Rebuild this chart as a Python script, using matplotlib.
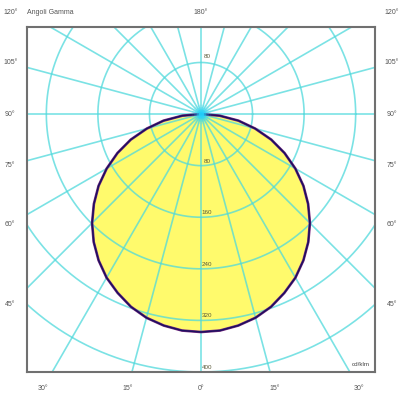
import numpy as np
import matplotlib
matplotlib.use("Agg")
import matplotlib.pyplot as plt

# Intensity distribution (cd/klm), gamma 0..90 deg
gamma_deg = [0, 5, 10, 15, 20, 25, 30, 35, 40, 45, 50, 55, 60, 65, 70, 75, 80, 85, 90]
intensity = [338, 337, 333, 327, 318, 306, 293, 277, 259, 239, 217, 194, 169, 143, 116, 87, 59, 29, 0]

ring_values = [80, 160, 240, 320, 400]
ray_angles = list(range(0, 360, 15))
side_labels = [105, 90, 75, 60, 45]
bottom_labels = [30, 15, 0, 15, 30]
bottom_signs = [-1, -1, 0, 1, 1]

plt.rcParams['font.family'] = ['Liberation Sans', 'DejaVu Sans']

fig = plt.figure(figsize=(4, 4), dpi=100)
ax = fig.add_axes([0.0675, 0.07, 0.87, 0.8625])
ax.set_xlim(-270, 270)
ax.set_ylim(-400, 135)
ax.set_xticks([])
ax.set_yticks([])
for s in ax.spines.values():
    s.set_color('#707070')
    s.set_linewidth(1.5)

grid_col = '#4fd9dc'

# curve, mirrored for both halves (0 deg = straight down)
g = np.radians(np.array(gamma_deg, dtype=float))
r = np.array(intensity, dtype=float)
xr = r * np.sin(g)
yr = -r * np.cos(g)
xs = np.concatenate([-xr[::-1], xr[1:]])
ys = np.concatenate([yr[::-1], yr[1:]])
ax.fill(xs, ys, color='#fffa6c', zorder=1, lw=0)

# grid circles
t = np.linspace(0, 2 * np.pi, 400)
for rv in ring_values:
    ax.plot(rv * np.cos(t), rv * np.sin(t), color=grid_col, lw=1.2, alpha=0.75, zorder=2)
# rays
for a in ray_angles:
    ar = np.radians(a)
    ax.plot([0, 800 * np.sin(ar)], [0, -800 * np.cos(ar)], color=grid_col, lw=1.2, alpha=0.75, zorder=2)

ax.plot(xs, ys, color='#7a2a80', lw=1.9, zorder=4, solid_joinstyle='round')
ax.plot(xs, ys, color='#1c1060', lw=1.1, zorder=5, solid_joinstyle='round')

# glow at the source, on top of the curve
for sz, al in [(200, 0.12), (110, 0.25), (50, 0.5), (16, 0.85)]:
    ax.scatter([0], [0], s=sz, color='#22d4ff', alpha=al, lw=0, zorder=6)

# ring labels
ax.text(9, 80 + 5, '80', fontsize=4.5, color='#5a5a3a', ha='center', va='bottom', zorder=7)
for rv in ring_values:
    ax.text(9, -rv + 3, str(rv), fontsize=4.5, color='#5a5a3a', ha='center', va='bottom', zorder=7)
ax.text(262, -392, 'cd/klm', fontsize=4.5, color='#444444', ha='right', va='bottom', zorder=7)

# angle labels outside the frame (on a larger rectangle)
X_out, Y_bot, Y_top = 296, -425, 157
lab_kw = dict(fontsize=5, color='#555555', ha='center', va='center', clip_on=False)
for a in side_labels:
    ar = np.radians(a)
    y = -X_out / np.tan(ar)
    ax.text(-X_out, y, f'{a}°', **lab_kw)
    ax.text(X_out, y, f'{a}°', **lab_kw)
for a, sgn in zip(bottom_labels, bottom_signs):
    x = sgn * abs(Y_bot) * np.tan(np.radians(a))
    ax.text(x, Y_bot, f'{a}°', **lab_kw)
ax.text(-X_out, Y_top, '120°', **lab_kw)
ax.text(X_out, Y_top, '120°', **lab_kw)
ax.text(0, Y_top, '180°', **lab_kw)
ax.text(-270, Y_top, 'Angoli Gamma', fontsize=5, color='#555555', ha='left', va='center', clip_on=False)

fig.savefig('out.png', dpi=100)
